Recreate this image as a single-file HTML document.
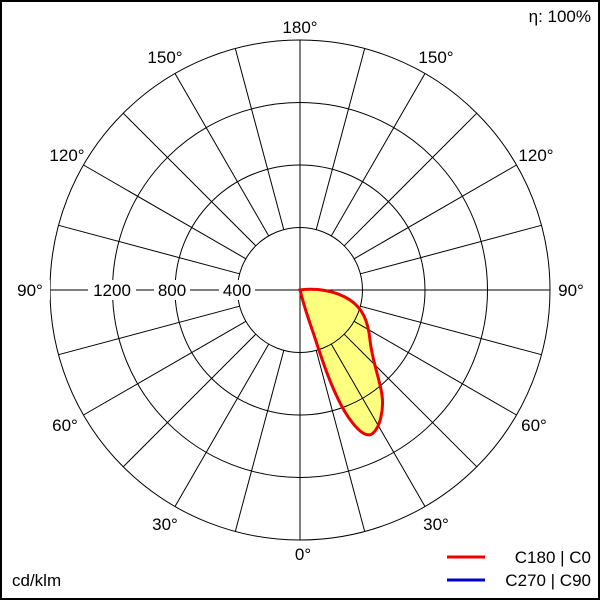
<!DOCTYPE html>
<html><head><style>body{margin:0;background:#fff}svg{display:block}</style></head><body>
<svg width="600" height="600" xmlns="http://www.w3.org/2000/svg" font-family="Liberation Sans, sans-serif" font-size="17">
<rect x="1" y="1" width="598" height="598" fill="#fff" stroke="#000" stroke-width="2"/>
<path d="M300,290 C315,288 335,290 350,300 C362,308 368,320 370,340 C372,360 380,380 382,395 C384,410 380,428 372,434 C365,438 355,428 345,412 C332,390 322,360 314,335 C308,318 303,302 300,290 Z" fill="#ffff80" stroke="none"/>
<g stroke="#000" stroke-width="1" fill="none">
<circle cx="300" cy="290" r="62.5"/><circle cx="300" cy="290" r="125"/><circle cx="300" cy="290" r="187.5"/><circle cx="300" cy="290" r="250"/>
<line x1="300" y1="40" x2="300" y2="540"/><line x1="50" y1="290" x2="550" y2="290"/>
<g id="r">
<line x1="316.2" y1="350.4" x2="364.7" y2="531.5"/>
<line x1="331.3" y1="344.1" x2="425" y2="506.5"/>
<line x1="344.2" y1="334.2" x2="476.8" y2="466.8"/>
<line x1="354.1" y1="321.3" x2="516.5" y2="415"/>
<line x1="360.4" y1="306.2" x2="541.5" y2="354.7"/>
<line x1="360.4" y1="273.8" x2="541.5" y2="225.3"/>
<line x1="354.1" y1="258.8" x2="516.5" y2="165"/>
<line x1="344.2" y1="245.8" x2="476.8" y2="113.2"/>
<line x1="331.3" y1="235.9" x2="425" y2="73.5"/>
<line x1="316.2" y1="229.6" x2="364.7" y2="48.5"/>
</g>
<use href="#r" transform="translate(600,0) scale(-1,1)"/>
</g>
<path d="M300,290 C315,288 335,290 350,300 C362,308 368,320 370,340 C372,360 380,380 382,395 C384,410 380,428 372,434 C365,438 355,428 345,412 C332,390 322,360 314,335 C308,318 303,302 300,290 Z" fill="none" stroke="#e00" stroke-width="3"/>
<g fill="#000" text-anchor="middle">
<rect x="219" y="280" width="36" height="20" fill="#fff"/><text x="237" y="296">400</text>
<rect x="154" y="280" width="36" height="20" fill="#fff"/><text x="172" y="296">800</text>
<rect x="88" y="280" width="48" height="20" fill="#fff"/><text x="112" y="296">1200</text>
<rect x="10" y="280" width="40" height="20" fill="#fff"/><text x="30" y="296">90°</text>
<text x="571" y="296">90°</text>
<text x="300" y="33">180°</text>
<text x="303" y="560">0°</text>
<text x="165" y="63">150°</text><text x="436" y="63">150°</text>
<text x="67" y="161">120°</text><text x="536" y="161">120°</text>
<text x="65" y="431">60°</text><text x="534" y="431">60°</text>
<text x="165" y="530">30°</text><text x="436" y="530">30°</text>
<text x="591" y="22" text-anchor="end">η: 100%</text>
<text x="12" y="586" text-anchor="start">cd/klm</text>
<text x="591" y="563" text-anchor="end">C180 | C0</text>
<text x="591" y="586" text-anchor="end">C270 | C90</text>
</g>
<line x1="447" y1="557" x2="485" y2="557" stroke="#e00" stroke-width="3"/>
<line x1="447" y1="580" x2="485" y2="580" stroke="#00c" stroke-width="3"/>
</svg>
</body></html>
